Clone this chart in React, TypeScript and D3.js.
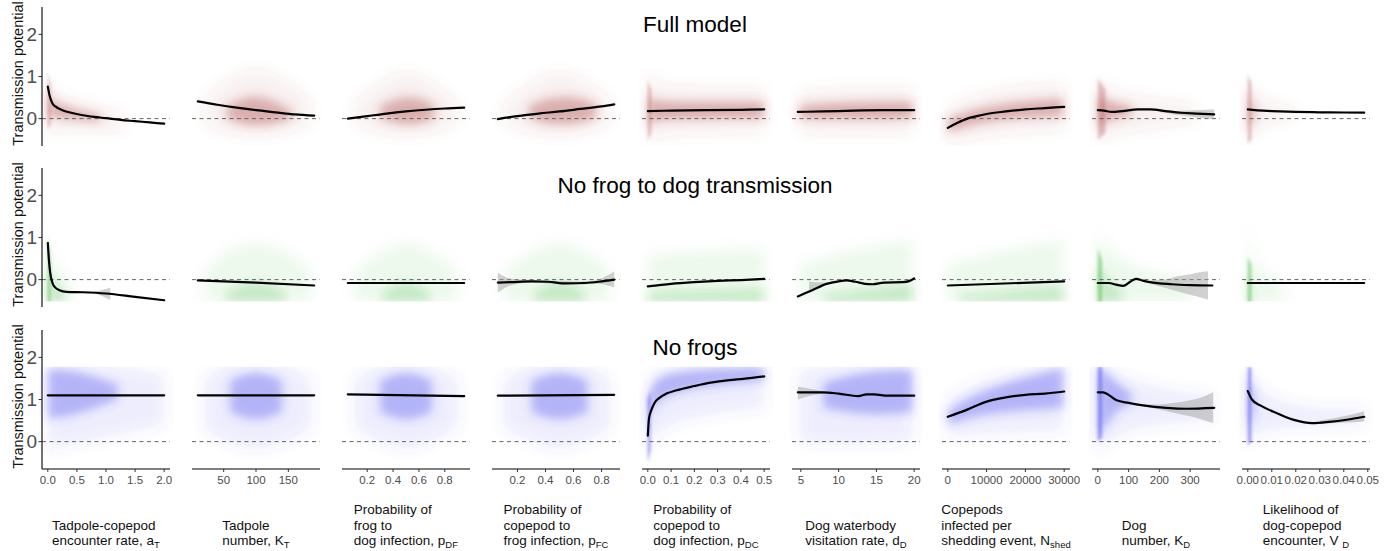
import React, { useEffect, useRef } from "react";
import * as d3 from "d3";

// ---- data ----
const rowTitles = ["Full model", "No frog to dog transmission", "No frogs"];
const rowColors = ["#a83a3c", "#22aa22", "#4646ee"];
const yTicks = [0, 1, 2];
// lower / upper edge of the point clouds per row (values are cut there)
const rowClip = [[-0.65, 2.65], [-0.52, 2.65], [-0.65, 1.78]];

const xDomains = [[0, 2], [10, 190], [0.05, 0.95], [0.06, 0.89], [0, 0.5], [4.6, 20], [0, 30000], [0, 378], [0, 0.0485]];
const xTicks = [
  [0, 0.5, 1, 1.5, 2],
  [50, 100, 150],
  [0.2, 0.4, 0.6, 0.8],
  [0.2, 0.4, 0.6, 0.8],
  [0, 0.1, 0.2, 0.3, 0.4, 0.5],
  [5, 10, 15, 20],
  [0, 10000, 20000, 30000],
  [0, 100, 200, 300],
  [0, 0.01, 0.02, 0.03, 0.04, 0.05],
];
const xTickLabels = [
  ["0.0", "0.5", "1.0", "1.5", "2.0"],
  ["50", "100", "150"],
  ["0.2", "0.4", "0.6", "0.8"],
  ["0.2", "0.4", "0.6", "0.8"],
  ["0.0", "0.1", "0.2", "0.3", "0.4", "0.5"],
  ["5", "10", "15", "20"],
  ["0", "10000", "20000", "30000"],
  ["0", "100", "200", "300"],
  ["0.00", "0.01", "0.02", "0.03", "0.04", "0.05"],
];
const xLabelLines = [
  ["Tadpole-copepod", "encounter rate, a"],
  ["Tadpole", "number, K"],
  ["Probability of", "frog to", "dog infection, p"],
  ["Probability of", "copepod to", "frog infection, p"],
  ["Probability of", "copepod to", "dog infection, p"],
  ["Dog waterbody", "visitation rate, d"],
  ["Copepods", "infected per", "shedding event, N"],
  ["Dog", "number, K"],
  ["Likelihood of", "dog-copepod", "encounter, V "],
];
const xLabelSubs = ["T", "T", "DF", "FC", "DC", "D", "shed", "D", "D"];

// smooth fits [x, y]
const fullFit = [
  [[0, 0.76], [0.03, 0.55], [0.08, 0.36], [0.15, 0.27], [0.25, 0.2], [0.4, 0.14], [0.6, 0.08], [0.8, 0.04], [1.0, 0.01], [1.25, -0.03], [1.5, -0.06], [1.75, -0.09], [2.0, -0.12]],
  [[10, 0.41], [40, 0.33], [70, 0.26], [100, 0.2], [130, 0.15], [160, 0.1], [190, 0.07]],
  [[0.05, 0.0], [0.2, 0.06], [0.35, 0.12], [0.5, 0.17], [0.65, 0.21], [0.8, 0.24], [0.95, 0.26]],
  [[0.06, -0.01], [0.2, 0.06], [0.35, 0.12], [0.5, 0.17], [0.65, 0.23], [0.8, 0.29], [0.89, 0.34]],
  [[0, 0.18], [0.1, 0.19], [0.25, 0.2], [0.4, 0.21], [0.5, 0.22]],
  [[4.6, 0.16], [8, 0.17], [12, 0.19], [16, 0.2], [20, 0.2]],
  [[0, -0.22], [2500, -0.1], [5000, 0.0], [7500, 0.06], [10000, 0.11], [15000, 0.17], [20000, 0.22], [25000, 0.25], [30000, 0.28]],
  [[0, 0.2], [20, 0.19], [45, 0.16], [80, 0.18], [130, 0.22], [170, 0.22], [220, 0.18], [270, 0.14], [320, 0.12], [378, 0.1]],
  [[0, 0.22], [0.003, 0.2], [0.01, 0.18], [0.02, 0.16], [0.03, 0.15], [0.04, 0.145], [0.0485, 0.14]],
];
const noDogFit = [
  [[0, 0.87], [0.02, 0.45], [0.04, 0.17], [0.08, -0.08], [0.13, -0.19], [0.2, -0.25], [0.32, -0.29], [0.6, -0.3], [1.0, -0.33], [1.5, -0.41], [2.0, -0.49]],
  [[10, -0.02], [100, -0.07], [190, -0.14]],
  [[0.05, -0.08], [0.95, -0.08]],
  [[0.06, -0.07], [0.15, -0.06], [0.3, -0.04], [0.42, -0.05], [0.55, -0.09], [0.68, -0.08], [0.78, -0.05], [0.89, 0.0]],
  [[0, -0.16], [0.1, -0.1], [0.2, -0.06], [0.3, -0.03], [0.4, -0.01], [0.5, 0.02]],
  [[4.6, -0.4], [6.5, -0.25], [8.4, -0.1], [10, -0.04], [11, -0.02], [12.2, -0.05], [13.5, -0.1], [14.5, -0.11], [16, -0.07], [18.5, -0.06], [19.4, -0.03], [20, 0.03]],
  [[0, -0.14], [30000, -0.04]],
  [[0, -0.08], [36, -0.08], [60, -0.12], [82, -0.15], [105, -0.05], [124, 0.02], [145, -0.02], [169, -0.06], [241, -0.11], [300, -0.13], [372, -0.14]],
  [[0, -0.08], [0.0485, -0.08]],
];
const noFrogsFit = [
  [[0, 1.1], [2, 1.1]],
  [[10, 1.1], [190, 1.1]],
  [[0.05, 1.12], [0.95, 1.08]],
  [[0.06, 1.09], [0.89, 1.11]],
  [[0, 0.14], [0.005, 0.55], [0.016, 0.76], [0.03, 0.93], [0.05, 1.04], [0.08, 1.14], [0.124, 1.22], [0.2, 1.32], [0.27, 1.4], [0.35, 1.46], [0.41, 1.49], [0.5, 1.55]],
  [[4.6, 1.17], [7.9, 1.17], [10, 1.14], [12.6, 1.08], [13.7, 1.12], [14.7, 1.12], [16.5, 1.09], [20, 1.09]],
  [[0, 0.59], [5000, 0.76], [10000, 0.95], [15000, 1.05], [20000, 1.11], [25000, 1.14], [30000, 1.19]],
  [[0, 1.17], [17, 1.17], [35, 1.11], [61, 0.98], [100, 0.92], [147, 0.86], [223, 0.8], [288, 0.78], [378, 0.8]],
  [[0, 1.2], [0.0017, 1.0], [0.0052, 0.86], [0.0124, 0.67], [0.0196, 0.51], [0.0268, 0.44], [0.034, 0.47], [0.0412, 0.52], [0.0485, 0.59]],
];

// confidence bands [x, lo, hi]
const fullBand = [[], [], [], [], [], [], [],
  [[200, 0.16, 0.2], [250, 0.1, 0.18], [300, 0.05, 0.19], [378, -0.02, 0.22]], []];
const noDogBand = [
  [[0.8, -0.31, -0.29], [0.95, -0.4, -0.24], [1.07, -0.47, -0.2], [1.08, -0.34, -0.33]],
  [], [],
  [[0.06, -0.31, 0.17], [0.12, -0.18, 0.05], [0.2, -0.1, 0.0], [0.3, -0.07, -0.01], [0.5, -0.11, -0.04], [0.7, -0.11, -0.05], [0.78, -0.1, 0.0], [0.89, -0.19, 0.19]],
  [],
  [[6.1, -0.32, -0.05], [7, -0.22, -0.06], [8, -0.12, -0.06], [8.6, -0.08, -0.06]],
  [],
  [[170, -0.1, -0.02], [220, -0.2, 0.0], [260, -0.28, 0.08], [300, -0.36, 0.13], [345, -0.45, 0.19], [358, -0.48, 0.2]],
  [],
];
const noFrogsBand = [[], [], [], [],
  [],
  [[4.6, 1.0, 1.31], [6, 1.08, 1.26], [7.5, 1.13, 1.21], [8.6, 1.16, 1.18]],
  [],
  [[150, 0.84, 0.88], [200, 0.76, 0.88], [250, 0.68, 0.92], [300, 0.6, 0.98], [340, 0.52, 1.06], [375, 0.44, 1.17]],
  [[0.03, 0.43, 0.5], [0.038, 0.45, 0.58], [0.044, 0.46, 0.65], [0.0485, 0.48, 0.72]],
];

// point clouds as envelopes [x, lo, hi]: faint halo, dense core, and the
// packed column of points sitting on x = 0 in some panels
const fullCloudOuter = [
  [[0, -0.45, 1.0], [0.05, -0.35, 0.75], [0.15, -0.3, 0.6], [0.3, -0.3, 0.5], [0.6, -0.3, 0.38], [1.0, -0.32, 0.25], [1.3, -0.3, 0.12]],
  [[20, -0.1, 0.4], [45, -0.35, 0.85], [100, -0.45, 1.3], [155, -0.35, 0.85], [185, -0.1, 0.4]],
  [[0.1, -0.1, 0.35], [0.27, -0.35, 0.8], [0.5, -0.45, 1.25], [0.73, -0.35, 0.8], [0.9, -0.1, 0.4]],
  [[0.1, -0.1, 0.35], [0.27, -0.35, 0.8], [0.5, -0.45, 1.25], [0.72, -0.35, 0.85], [0.86, -0.1, 0.45]],
  [[0, -0.6, 1.2], [0.02, -0.45, 0.9], [0.1, -0.4, 0.75], [0.3, -0.35, 0.72], [0.5, -0.35, 0.72]],
  [[4.8, -0.35, 0.65], [12, -0.4, 0.75], [19.8, -0.35, 0.72]],
  [[0, -0.62, 0.25], [5000, -0.5, 0.5], [15000, -0.35, 0.75], [29800, -0.3, 0.85]],
  [[0, -0.6, 1.0], [20, -0.5, 0.85], [60, -0.35, 0.6], [150, -0.25, 0.5], [250, -0.15, 0.42], [320, -0.05, 0.3]],
  [[0, -0.6, 1.0], [0.0015, -0.45, 0.8], [0.005, -0.2, 0.5], [0.012, -0.05, 0.35], [0.02, 0.05, 0.25]],
];
const fullCloudCore = [
  [[0, -0.05, 0.7], [0.05, 0.05, 0.5], [0.15, 0.03, 0.38], [0.3, 0.0, 0.3], [0.6, -0.05, 0.18], [0.9, -0.08, 0.1]],
  [[55, 0.0, 0.3], [80, -0.15, 0.5], [100, -0.18, 0.55], [125, -0.15, 0.45], [155, 0.0, 0.2]],
  [[0.3, 0.02, 0.3], [0.42, -0.12, 0.48], [0.52, -0.15, 0.52], [0.62, -0.12, 0.48], [0.72, 0.02, 0.32]],
  [[0.28, 0.02, 0.3], [0.4, -0.12, 0.48], [0.52, -0.15, 0.52], [0.64, -0.12, 0.5], [0.76, 0.02, 0.35]],
  [[0, -0.2, 0.6], [0.02, -0.05, 0.42], [0.1, -0.02, 0.4], [0.3, 0.0, 0.4], [0.5, 0.0, 0.4]],
  [[4.8, 0.0, 0.32], [12, -0.02, 0.4], [19.8, 0.0, 0.4]],
  [[0, -0.35, 0.0], [5000, -0.16, 0.18], [15000, 0.0, 0.38], [29800, 0.05, 0.48]],
  [[0, -0.2, 0.55], [20, -0.12, 0.48], [50, 0.0, 0.38], [110, 0.08, 0.3]],
  [[0, -0.3, 0.7], [0.0012, -0.15, 0.45], [0.003, 0.02, 0.3]],
];
const fullStrip = [
  [[0, -0.25, 1.1], [0.05, -0.15, 0.8]],
  [], [], [],
  [[0, -0.5, 0.9], [0.015, -0.35, 0.7]],
  [], [],
  [[0, -0.5, 0.95], [25, -0.35, 0.7]],
  [[0, -0.6, 1.05], [0.0015, -0.5, 0.85]],
];
const noDogCloudOuter = [
  [[0, -0.55, 1.1], [0.05, -0.55, 0.5], [0.15, -0.55, 0.3], [0.3, -0.55, 0.1], [0.4, -0.55, -0.1]],
  [[20, -0.55, 0.2], [50, -0.55, 0.7], [100, -0.55, 0.95], [150, -0.55, 0.7], [185, -0.55, 0.2]],
  [[0.1, -0.55, 0.2], [0.3, -0.55, 0.7], [0.5, -0.55, 0.95], [0.7, -0.55, 0.7], [0.9, -0.55, 0.2]],
  [[0.1, -0.55, 0.2], [0.3, -0.55, 0.7], [0.5, -0.55, 0.95], [0.7, -0.55, 0.7], [0.86, -0.55, 0.2]],
  [[0, -0.55, 0.6], [0.25, -0.55, 0.7], [0.5, -0.55, 0.75]],
  [[4.8, -0.55, 0.35], [12, -0.55, 0.75], [19.8, -0.55, 0.95]],
  [[0, -0.55, 0.35], [15000, -0.55, 0.75], [29800, -0.55, 0.95]],
  [[0, -0.55, 1.2], [30, -0.55, 0.75], [100, -0.55, 0.35], [200, -0.55, 0.15], [300, -0.55, 0.0]],
  [[0, -0.55, 1.6], [0.001, -0.55, 0.7], [0.005, -0.55, 0.15], [0.015, -0.55, -0.05]],
];
const noDogCloudCore = [
  [[0, -0.55, 0.3], [0.08, -0.55, 0.0], [0.2, -0.55, -0.18], [0.3, -0.55, -0.3]],
  [[55, -0.55, -0.3], [100, -0.55, 0.05], [145, -0.55, -0.3]],
  [[0.32, -0.55, -0.3], [0.5, -0.55, 0.05], [0.68, -0.55, -0.3]],
  [[0.32, -0.55, -0.3], [0.5, -0.55, 0.05], [0.68, -0.55, -0.3]],
  [[0, -0.55, -0.3], [0.5, -0.55, -0.22]],
  [[8, -0.55, -0.38], [14, -0.55, -0.22], [19.8, -0.55, -0.1]],
  [[3000, -0.55, -0.4], [15000, -0.55, -0.28], [29800, -0.55, -0.15]],
  [[0, -0.55, 0.35], [30, -0.55, 0.0], [80, -0.55, -0.3]],
  [[0, -0.55, 0.4], [0.001, -0.55, -0.1], [0.002, -0.55, -0.35]],
];
const noDogStrip = [
  [[0, -0.55, 1.05], [0.05, -0.55, 0.5]],
  [], [], [], [], [], [],
  [[0, -0.55, 0.75], [14, -0.55, 0.45]],
  [[0, -0.55, 0.55], [0.0015, -0.55, 0.35]],
];
const noFrogsCloudOuter = [
  [[0, -0.2, 1.85], [1, 0.1, 1.85], [2, 0.4, 1.6]],
  [[20, 0.3, 1.5], [50, 0.0, 1.85], [100, -0.25, 1.85], [150, 0.0, 1.85], [185, 0.3, 1.5]],
  [[0.1, 0.3, 1.5], [0.3, 0.0, 1.85], [0.5, -0.25, 1.85], [0.7, 0.0, 1.85], [0.9, 0.3, 1.5]],
  [[0.1, 0.3, 1.5], [0.3, 0.0, 1.85], [0.5, -0.25, 1.85], [0.7, 0.0, 1.85], [0.86, 0.3, 1.5]],
  [[0, -0.5, 1.0], [0.01, -0.1, 1.5], [0.05, 0.3, 1.75], [0.2, 0.6, 1.85], [0.5, 0.8, 1.85]],
  [[4.8, 0.0, 1.7], [12, -0.1, 1.85], [19.8, 0.0, 1.85]],
  [[0, 0.1, 1.0], [10000, 0.2, 1.55], [29800, 0.25, 1.85]],
  [[0, -0.3, 1.85], [30, 0.0, 1.8], [100, 0.3, 1.45], [250, 0.45, 1.2], [370, 0.5, 1.1]],
  [[0, -0.2, 1.85], [0.002, 0.2, 1.4], [0.01, 0.3, 1.0], [0.03, 0.35, 0.75], [0.048, 0.4, 0.8]],
];
const noFrogsCloudCore = [
  [[0, 0.55, 1.72], [0.4, 0.6, 1.7], [0.8, 0.8, 1.55], [1.2, 1.0, 1.35]],
  [[60, 0.7, 1.45], [100, 0.45, 1.72], [140, 0.7, 1.45]],
  [[0.3, 0.7, 1.45], [0.5, 0.45, 1.72], [0.7, 0.7, 1.45]],
  [[0.3, 0.7, 1.45], [0.5, 0.45, 1.72], [0.7, 0.7, 1.45]],
  [[0, 0.1, 0.9], [0.01, 0.7, 1.3], [0.05, 1.05, 1.58], [0.2, 1.3, 1.72], [0.5, 1.45, 1.75]],
  [[8, 0.8, 1.4], [14, 0.6, 1.7], [19.8, 0.7, 1.7]],
  [[0, 0.4, 0.75], [10000, 0.7, 1.3], [29800, 0.8, 1.75]],
  [[0, 0.1, 1.78], [30, 0.4, 1.65], [65, 0.8, 1.35], [110, 0.9, 1.15]],
  [[0, 0.1, 1.7], [0.001, 0.4, 1.45], [0.003, 0.7, 1.15]],
];
const noFrogsStrip = [
  [], [], [], [],
  [[0, -0.5, 1.0], [0.012, -0.2, 1.2]],
  [], [],
  [[0, 0.0, 1.78], [14, 0.1, 1.78]],
  [[0, -0.1, 1.78], [0.0015, 0.0, 1.78]],
];

const fits = [fullFit, noDogFit, noFrogsFit];
const bands = [fullBand, noDogBand, noFrogsBand];
const cloudsOuter = [fullCloudOuter, noDogCloudOuter, noFrogsCloudOuter];
const cloudsCore = [fullCloudCore, noDogCloudCore, noFrogsCloudCore];
const strips = [fullStrip, noDogStrip, noFrogsStrip];

const FONT = "'Liberation Sans', Arial, Helvetica, sans-serif";

export default function App() {
  const ref = useRef<SVGSVGElement>(null);

  useEffect(() => {
    const width = 1390, height = 551;
    const panelW = 128, panelH = 139;
    const colX = (i: number) => 42 + 150 * i;
    const rowTop = [7, 168, 330];
    const yDom = [-0.65, 2.65];

    const svg = d3.select(ref.current);
    svg.selectAll("*").remove();
    svg.attr("width", width).attr("height", height);

    const defs = svg.append("defs");
    [["blurOuter", 7], ["blurCore", 5], ["blurStrip", 1.8]].forEach(([id, s]) => {
      defs.append("filter").attr("id", id)
        .attr("filterUnits", "userSpaceOnUse")
        .attr("x", 0).attr("y", 0).attr("width", width).attr("height", height)
        .append("feGaussianBlur").attr("stdDeviation", s);
    });
    // halo, core, strip opacity per row
    const opac = [
      [0.08, 0.36, 0.3],
      [0.07, 0.2, 0.42],
      [0.1, 0.34, 0.5],
    ];

    rowTitles.forEach((title, r) => {
      const y = d3.scaleLinear().domain(yDom).range([rowTop[r] + panelH, rowTop[r]]);

      xDomains.forEach((dom, c) => {
        const x0 = colX(c);
        const pad = (dom[1] - dom[0]) * 0.05;
        const x = d3.scaleLinear().domain([dom[0] - pad, dom[1] + pad]).range([x0, x0 + panelW]);
        const g = svg.append("g");

        // point cloud
        const clipId = `clip-${r}-${c}`;
        defs.append("clipPath").attr("id", clipId)
          .append("rect")
          .attr("x", x0 - 3).attr("width", panelW + 6)
          .attr("y", y(rowClip[r][1])).attr("height", y(rowClip[r][0]) - y(rowClip[r][1]));
        const area = d3.area<number[]>()
          .x((d) => x(d[0])).y0((d) => y(d[1])).y1((d) => y(d[2]))
          .curve(d3.curveBasis);
        const cg = g.append("g").attr("clip-path", `url(#${clipId})`);
        cg.append("path").attr("d", area(cloudsOuter[r][c]))
          .attr("filter", "url(#blurOuter)")
          .attr("fill", rowColors[r]).attr("fill-opacity", opac[r][0]);
        cg.append("path").attr("d", area(cloudsCore[r][c]))
          .attr("filter", "url(#blurCore)")
          .attr("fill", rowColors[r]).attr("fill-opacity", opac[r][1]);
        if (strips[r][c].length) {
          const stripArea = d3.area<number[]>()
            .x((d) => x(d[0])).y0((d) => y(d[1])).y1((d) => y(d[2]));
          cg.append("path").attr("d", stripArea(strips[r][c]))
            .attr("filter", "url(#blurStrip)")
            .attr("fill", rowColors[r]).attr("fill-opacity", opac[r][2]);
        }

        // zero reference
        g.append("line")
          .attr("x1", x0).attr("x2", x0 + panelW)
          .attr("y1", y(0)).attr("y2", y(0))
          .attr("stroke", "#666").attr("stroke-width", 1)
          .attr("stroke-dasharray", "4,3.5");

        // confidence band
        if (bands[r][c].length) {
          const band = d3.area<number[]>()
            .x((d) => x(d[0])).y0((d) => y(d[1])).y1((d) => y(d[2]))
            .curve(d3.curveMonotoneX);
          g.append("path").attr("d", band(bands[r][c]))
            .attr("fill", "#999").attr("fill-opacity", 0.45);
        }

        // smooth
        const line = d3.line<number[]>().x((d) => x(d[0])).y((d) => y(d[1])).curve(d3.curveMonotoneX);
        g.append("path").attr("d", line(fits[r][c]))
          .attr("fill", "none").attr("stroke", "#000").attr("stroke-width", 2.2)
          .attr("stroke-linejoin", "round").attr("stroke-linecap", "round");

        // x axis on the bottom row only
        if (r === 2) {
          const yb = rowTop[r] + panelH;
          g.append("line").attr("x1", x0).attr("x2", x0 + panelW)
            .attr("y1", yb).attr("y2", yb).attr("stroke", "#000").attr("stroke-width", 1.1);
          xTicks[c].forEach((t, k) => {
            g.append("line").attr("x1", x(t)).attr("x2", x(t))
              .attr("y1", yb).attr("y2", yb + 3).attr("stroke", "#333");
            g.append("text").attr("x", x(t)).attr("y", yb + 15)
              .attr("text-anchor", "middle").attr("font-family", FONT)
              .attr("font-size", 11.5).attr("fill", "#4d4d4d")
              .text(xTickLabels[c][k]);
          });
        }
      });

      // y axis on the first column
      const ya = svg.append("g");
      ya.append("line").attr("x1", 42).attr("x2", 42)
        .attr("y1", rowTop[r]).attr("y2", rowTop[r] + panelH)
        .attr("stroke", "#000").attr("stroke-width", 1.1);
      yTicks.forEach((t) => {
        ya.append("line").attr("x1", 38.5).attr("x2", 42).attr("y1", y(t)).attr("y2", y(t)).attr("stroke", "#333");
        ya.append("text").attr("x", 37).attr("y", y(t)).attr("dy", "0.36em")
          .attr("text-anchor", "end").attr("font-family", FONT)
          .attr("font-size", 19).attr("fill", "#4d4d4d").text(t);
      });
      ya.append("text")
        .attr("transform", `translate(23,${rowTop[r] + panelH / 2 - 3}) rotate(-90)`)
        .attr("text-anchor", "middle").attr("font-family", FONT)
        .attr("font-size", 14.5).attr("fill", "#111").text("Transmission potential");

      svg.append("text").attr("x", 695).attr("y", [32, 193, 355][r])
        .attr("text-anchor", "middle").attr("font-family", FONT)
        .attr("font-size", 22.5).attr("fill", "#000").text(title);
    });

    // parameter labels under each column, block centred, lines left aligned
    const baselines = [514, 529.5, 545];
    xLabelLines.forEach((lines, c) => {
      const lg = svg.append("g");
      const off = 3 - lines.length;
      lines.forEach((txt, k) => {
        const t = lg.append("text").attr("x", 0).attr("y", baselines[k + off])
          .attr("font-family", FONT).attr("font-size", 13.5).attr("fill", "#111");
        t.append("tspan").text(txt);
        if (k === lines.length - 1) {
          t.append("tspan").attr("font-size", 9.5).attr("dy", 3).text(xLabelSubs[c]);
        }
      });
      const bb = (lg.node() as SVGGElement).getBBox();
      lg.attr("transform", `translate(${colX(c) + panelW / 2 - bb.width / 2},0)`);
    });
  }, []);

  return <svg ref={ref} style={{ position: "absolute", left: 0, top: 0 }} />;
}
